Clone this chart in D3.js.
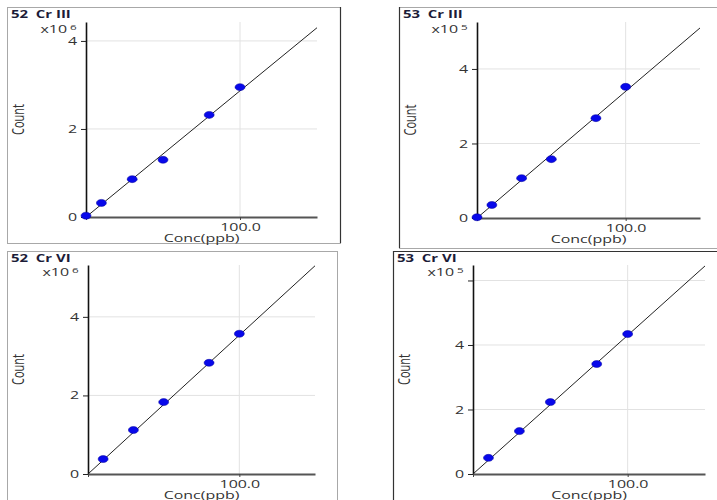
<!DOCTYPE html>
<html>
<head>
<meta charset="utf-8">
<script src="https://cdn.jsdelivr.net/npm/d3@7"></script>
<style>
  body { margin: 0; background: #fff; }
  svg { display: block; }
  text { font-family: "Open Sans", "DejaVu Sans", sans-serif; white-space: pre; }
</style>
</head>
<body>
<svg id="chart" width="717" height="500"></svg>
<script>
var svg = d3.select('#chart')
var SX = 1.45  // the picture is stretched sideways

// data
var titles = ["52  Cr III", "53  Cr III", "52  Cr VI", "53  Cr VI"]
var exponents = ["6", "5", "6", "5"]
var concFull = [0, 10, 30, 50, 80, 100]
var concNoBlank = [10, 30, 50, 80, 100]
var count52III = [0.03, 0.32, 0.86, 1.30, 2.32, 2.95]
var count53III = [0.02, 0.35, 1.07, 1.58, 2.68, 3.52]
var count52VI = [0.38, 1.12, 1.83, 2.83, 3.57]
var count53VI = [0.50, 1.33, 2.23, 3.41, 4.34]
var fitConc = [0, 150]
var fit52III = [0, 4.30]
var fit53III = [0, 5.10]
var fit52VI = [0, 5.30]
var fit53VI = [0, 6.45]
var yTicks = [[0, 2, 4], [0, 2, 4], [0, 2, 4], [0, 2, 4, 6]]
var yLabelled = [[0, 2, 4], [0, 2, 4], [0, 2, 4], [0, 2, 4]]
var yMax = [4.43, 5.26, 5.32, 6.48]
var xMax = 150
var xTicks = [0, 100]
var xTickLabel = "100.0"
var xTitle = "Conc(ppb)"
var yTitle = "Count"

var series = [
  { conc: concFull, count: count52III, fit: fit52III },
  { conc: concFull, count: count53III, fit: fit53III },
  { conc: concNoBlank, count: count52VI, fit: fit52VI },
  { conc: concNoBlank, count: count53VI, fit: fit53VI }
]

// panel layout (pixels)
var layout = [
  { fx: 7, fy: 7, fw: 333, fh: 236, ax: 86, ay: 217, ax2: 317, top: 22, dark: ["right"] },
  { fx: 399, fy: 7, fw: 330, fh: 241, ax: 477, ay: 218, ax2: 700, top: 22, dark: ["left"] },
  { fx: 7, fy: 251, fw: 330, fh: 260, ax: 88, ay: 474, ax2: 315, top: 265, dark: [] },
  { fx: 393, fy: 251, fw: 330, fh: 260, ax: 473, ay: 474, ax2: 705, top: 265, dark: ["left", "top"] }
]

function wideText(g, x, y, str, size, anchor) {
  return g.append('text')
    .attr('transform', 'translate(' + x + ',' + y + ') scale(' + SX + ',1)')
    .attr('text-anchor', anchor || 'start')
    .attr('font-size', size)
    .text(str)
}

layout.forEach(function (p, i) {
  var g = svg.append('g')
  var s = series[i]

  // frame
  g.append('rect')
    .attr('x', p.fx + 0.5).attr('y', p.fy + 0.5)
    .attr('width', p.fw).attr('height', p.fh)
    .attr('fill', 'none').attr('stroke', '#a8a8a8')
  p.dark.forEach(function (side) {
    var l = g.append('line').attr('stroke', '#333').attr('stroke-width', 1.2)
    if (side === 'left') l.attr('x1', p.fx + 0.5).attr('x2', p.fx + 0.5).attr('y1', p.fy).attr('y2', p.fy + p.fh)
    if (side === 'right') l.attr('x1', p.fx + p.fw + 0.5).attr('x2', p.fx + p.fw + 0.5).attr('y1', p.fy).attr('y2', p.fy + p.fh)
    if (side === 'top') l.attr('x1', p.fx).attr('x2', p.fx + p.fw).attr('y1', p.fy + 0.5).attr('y2', p.fy + 0.5)
  })

  var x = d3.scaleLinear().domain([0, xMax]).range([p.ax, p.ax2])
  var y = d3.scaleLinear().domain([0, yMax[i]]).range([p.ay, p.top])

  // grid
  g.selectAll('.hgrid')
    .data(yTicks[i].filter(function (d) { return d > 0 }))
    .enter().append('line')
    .attr('x1', p.ax).attr('x2', p.ax2)
    .attr('y1', function (d) { return y(d) }).attr('y2', function (d) { return y(d) })
    .attr('stroke', '#e2e2e2')
  g.selectAll('.vgrid')
    .data(xTicks.filter(function (d) { return d > 0 }))
    .enter().append('line')
    .attr('x1', function (d) { return x(d) }).attr('x2', function (d) { return x(d) })
    .attr('y1', p.ay).attr('y2', p.top)
    .attr('stroke', '#e2e2e2')

  // y axis
  var yAxis = g.append('g')
    .attr('transform', 'translate(' + p.ax + ',0)')
    .call(d3.axisLeft(y).tickValues(yTicks[i]).tickSize(5).tickSizeOuter(0)
      .tickFormat(function (d) { return yLabelled[i].indexOf(d) >= 0 ? d : '' }))
  yAxis.select('.domain').attr('stroke', '#111').attr('stroke-width', 1.6)
  yAxis.selectAll('.tick line').attr('stroke', '#222')
  yAxis.selectAll('text')
    .attr('x', -9 / SX)
    .attr('transform', 'scale(' + SX + ',1)')
    .attr('font-size', 11).attr('fill', '#333')
    .attr('font-family', '"Open Sans", sans-serif')

  // x axis
  var xAxis = g.append('g')
    .attr('transform', 'translate(0,' + p.ay + ')')
    .call(d3.axisBottom(x).tickValues(xTicks).tickSize(3).tickSizeOuter(0)
      .tickFormat(function (d) { return d === 100 ? xTickLabel : '' }))
  xAxis.select('.domain').attr('stroke', '#555').attr('stroke-width', 1.8)
  xAxis.selectAll('.tick line').attr('stroke', '#444')
  xAxis.selectAll('text')
    .attr('y', 0).attr('dy', 0)
    .attr('transform', 'translate(0,14) scale(' + SX + ',1)')
    .attr('font-size', 11).attr('fill', '#333')
    .attr('font-family', '"Open Sans", sans-serif')

  // fit line
  g.append('path')
    .datum(d3.zip(fitConc, s.fit))
    .attr('d', d3.line().x(function (d) { return x(d[0]) }).y(function (d) { return y(d[1]) }))
    .attr('fill', 'none').attr('stroke', '#222').attr('stroke-width', 1)

  // points
  g.selectAll('.pt')
    .data(d3.zip(s.conc, s.count))
    .enter().append('ellipse')
    .attr('cx', function (d) { return x(d[0]) })
    .attr('cy', function (d) { return y(d[1]) })
    .attr('rx', 5).attr('ry', 3.5)
    .attr('fill', '#0808ea').attr('stroke', '#00009a').attr('stroke-width', 0.5)

  // texts
  wideText(g, p.fx + 4, p.fy + 11, titles[i], 10.3, 'start')
    .attr('font-weight', 'bold').attr('fill', '#1c1c38')
  wideText(g, p.ax - 19, p.top + 11, 'x10', 11, 'end').attr('fill', '#333')
  wideText(g, p.ax - 16, p.top + 8, exponents[i], 8, 'start').attr('fill', '#333')
  wideText(g, (p.ax + p.ax2) / 2, p.ay + 25, xTitle, 11, 'middle').attr('fill', '#333')

  g.append('text')
    .attr('transform', 'translate(' + (p.fx + 11) + ',' + ((p.top + p.ay) / 2) + ') scale(' + SX + ',1) rotate(-90)')
    .attr('text-anchor', 'middle')
    .attr('dominant-baseline', 'central')
    .attr('font-size', 11).attr('fill', '#333')
    .text(yTitle)
})
</script>
</body>
</html>
